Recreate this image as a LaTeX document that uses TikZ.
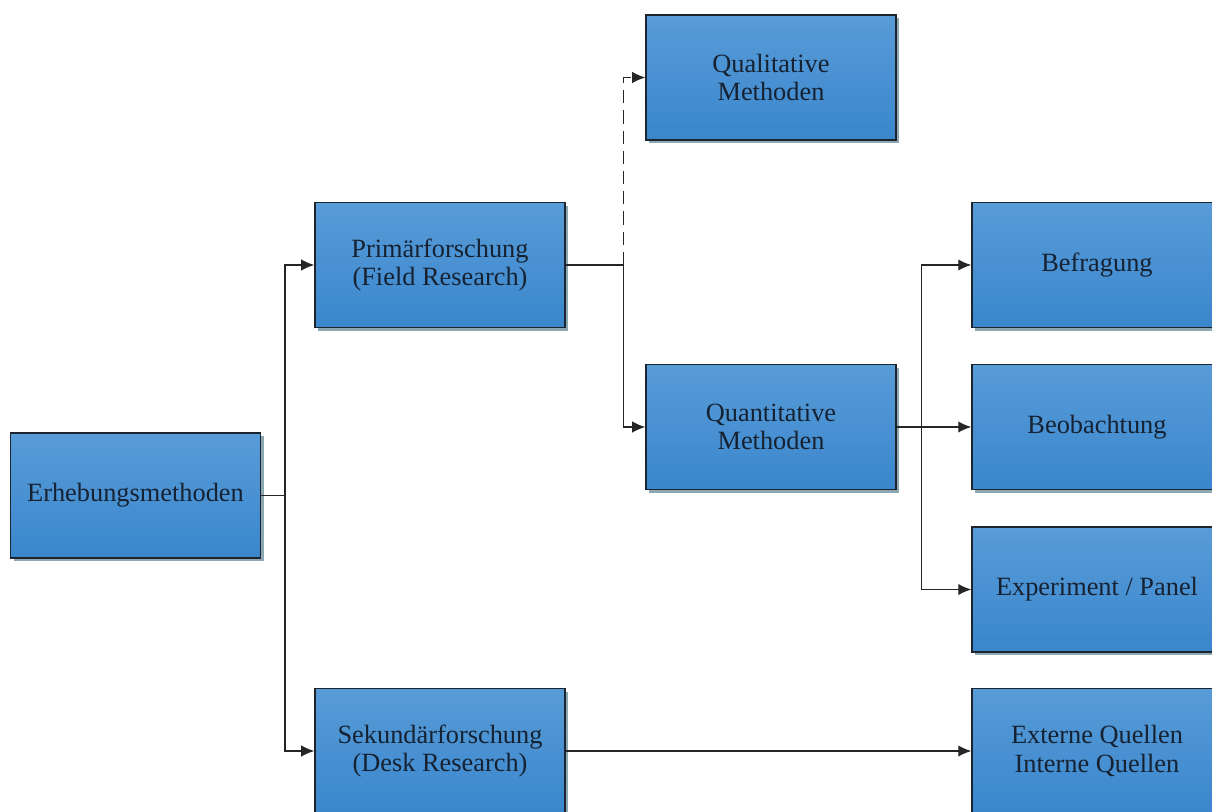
\documentclass[tikz,border=0pt]{standalone}
\usepackage{fontspec}
\setmainfont{Liberation Serif}
\usepackage{tikz}
\usetikzlibrary{arrows.meta}
\usetikzlibrary{shadows}
\usetikzlibrary{positioning}

\definecolor{boxtop}{RGB}{88,156,216}
\definecolor{boxbottom}{RGB}{58,134,204}
\definecolor{boxline}{RGB}{30,36,44}
\definecolor{boxshadow}{RGB}{140,168,178}
\definecolor{boxtext}{RGB}{22,34,50}

\begin{document}
\begin{tikzpicture}[x=0.02cm,y=-0.02cm,
>={Latex[length=7.5pt,width=6.5pt]},
methode/.style={draw=boxline,line width=0.7pt,
top color=boxtop,bottom color=boxbottom,
minimum width=5cm,minimum height=2.5cm,inner sep=0pt,
align=center,text=boxtext,font=\fontsize{15}{16}\selectfont,
drop shadow={shadow xshift=1.8pt,shadow yshift=-1.8pt,fill=boxshadow,opacity=1}},
link/.style={->,line width=0.85pt,black!85}]
\useasboundingbox (0,0) rectangle (1212,811);
\node[methode] (erh) at (135.5,495.5) {Erhebungsmethoden};
\node[methode] (prim) at (440,265) {Primärforschung\\(Field Research)};
\node[methode] (sek) at (440,751) {Sekundärforschung\\(Desk Research)};
\node[methode] (qual) at (771,77.5) {Qualitative\\Methoden};
\node[methode] (quant) at (771,427) {Quantitative\\Methoden};
\node[methode] (befr) at (1097,265) {Befragung};
\node[methode] (beob) at (1097,427) {Beobachtung};
\node[methode] (exp) at (1097,589.5) {Experiment / Panel};
\node[methode] (ext) at (1097,751) {Externe Quellen\\Interne Quellen};
\draw[link] (erh.east) -- ++(24,0) |- (prim.west);
\draw[link] (erh.east) -- ++(24,0) |- (sek.west);
\draw[link] (prim.east) -- ++(58,0) |- (quant.west);
\draw[link,dash pattern=on 7.5pt off 4pt] (prim.east) ++(58,0) |- (qual.west);
\draw[link] (quant.east) -- ++(25,0) |- (befr.west);
\draw[link] (quant.east) -- (beob.west);
\draw[link] (quant.east) -- ++(25,0) |- (exp.west);
\draw[link] (sek.east) -- (ext.west);
\end{tikzpicture}
\end{document}
